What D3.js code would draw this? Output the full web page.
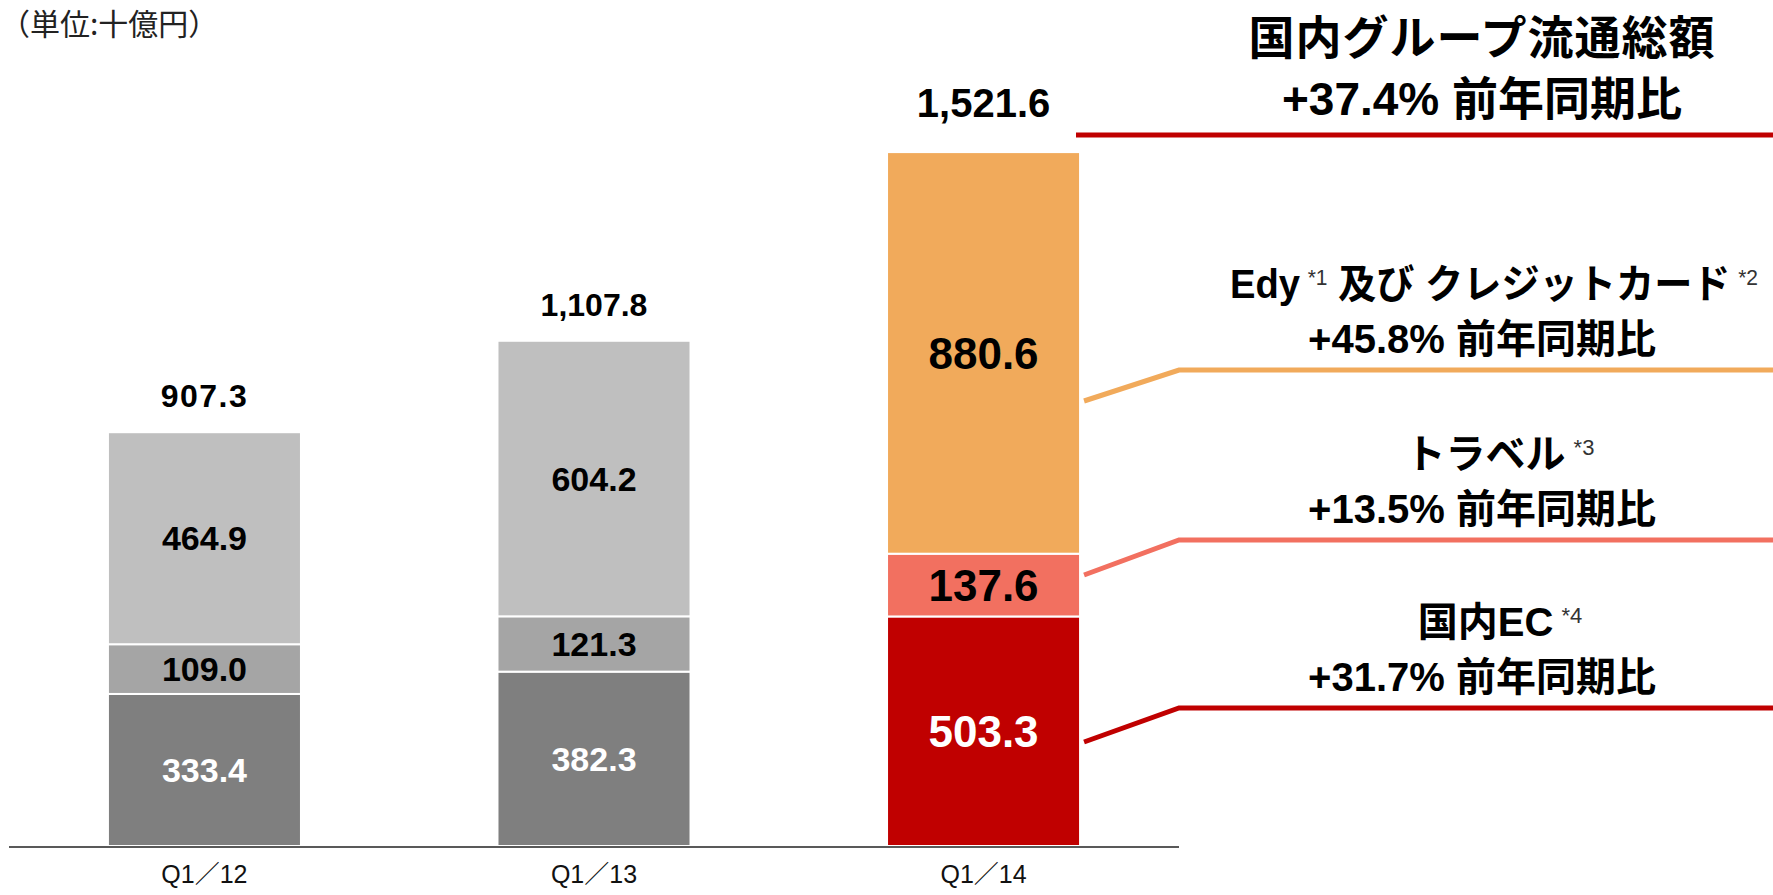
<!DOCTYPE html>
<html lang="ja">
<head>
    <meta charset="UTF-8">
    <title>国内グループ流通総額</title>
    <script src="https://d3js.org/d3.v7.min.js"></script>
    <style>
        body { margin: 0; background: #fff; }
        svg { display: block; }
    </style>
</head>
<body>
<script>
    // data (十億円)
    const categories = ["Q1／12", "Q1／13", "Q1／14"];
    const domesticEC = [333.4, 382.3, 503.3];
    const travel = [109.0, 121.3, 137.6];
    const edyCredit = [464.9, 604.2, 880.6];
    const totals = [907.3, 1107.8, 1521.6];

    const unitLabel = "（単位:十億円）";
    const titleText = "国内グループ流通総額";
    const totalYoy = "+37.4%";
    const yoyWord = "前年同期比";
    // order: 国内EC, トラベル, Edy及びクレジットカード
    const seriesYoy = ["+31.7%", "+13.5%", "+45.8%"];
    const seriesLabels = [
        [["国内EC", 0], ["*4", 1]],
        [["トラベル", 0], ["*3", 1]],
        [["Edy", 0], ["*1", 1], [" 及び クレジットカード", 0], ["*2", 1]]
    ];

    const keys = ["ec", "travel", "edy"];
    const grays = {ec: "#7f7f7f", travel: "#a5a5a5", edy: "#bfbfbf"};
    const colors = {ec: "#c00000", travel: "#f27060", edy: "#f1aa5b"};
    const lineColors = ["#c00000", "#f27060", "#f1aa5b"];
    const highlight = 2;

    const W = 1773, H = 895;
    const numFont = '"Liberation Sans", Arial, sans-serif';
    const annFont = '"Liberation Sans Narrow", "Liberation Sans", "Noto Sans CJK JP", sans-serif';

    const svg = d3.select("body").append("svg")
        .attr("width", W)
        .attr("height", H);

    const table = categories.map((c, i) => ({cat: c, ec: domesticEC[i], travel: travel[i], edy: edyCredit[i]}));
    const stacked = d3.stack().keys(keys)(table);

    const x = d3.scaleBand()
        .domain(categories)
        .range([9, 1179])
        .paddingInner(0.5045)
        .paddingOuter(0.254);
    const y = d3.scaleLinear()
        .domain([0, 1855])
        .range([846, 0]);

    // bars
    const layers = svg.append("g").selectAll("g").data(stacked).enter().append("g");
    layers.selectAll("rect")
        .data(d => d.map((v, i) => ({key: d.key, i: i, y0: v[0], y1: v[1]})))
        .enter()
        .append("rect")
        .attr("x", d => x(categories[d.i]))
        .attr("width", x.bandwidth())
        .attr("y", d => y(d.y1))
        .attr("height", d => y(d.y0) - y(d.y1))
        .style("fill", d => d.i === highlight ? colors[d.key] : grays[d.key])
        .style("stroke", "#fff")
        .style("stroke-width", 2);

    // segment labels
    layers.selectAll("text")
        .data(d => d.map((v, i) => ({key: d.key, i: i, y0: v[0], y1: v[1], val: v[1] - v[0]})))
        .enter()
        .append("text")
        .attr("x", d => x(categories[d.i]) + x.bandwidth() / 2)
        .attr("y", d => (y(d.y0) + y(d.y1)) / 2 + (d.i === highlight ? 16 : 12))
        .attr("text-anchor", "middle")
        .style("font-family", numFont)
        .style("font-weight", "bold")
        .style("font-size", d => d.i === highlight ? "44px" : "34px")
        .style("fill", d => d.key === "ec" ? "#fff" : "#000")
        .text(d => d3.format(".1f")(d.val));

    // totals
    svg.append("g").selectAll("text")
        .data(totals)
        .enter()
        .append("text")
        .attr("x", (d, i) => x(categories[i]) + x.bandwidth() / 2)
        .attr("y", (d, i) => y(d) - (i === highlight ? 35 : 25))
        .attr("text-anchor", "middle")
        .style("font-family", numFont)
        .style("font-weight", "bold")
        .style("font-size", (d, i) => i === highlight ? "40px" : "32px")
        .style("letter-spacing", (d, i) => i === 0 ? "1.5px" : "0px")
        .text(d => d3.format(",.1f")(d));

    // baseline + category labels
    svg.append("line")
        .attr("x1", 9).attr("x2", 1179)
        .attr("y1", 847).attr("y2", 847)
        .style("stroke", "#222")
        .style("stroke-width", 1.5);

    svg.append("g").selectAll("text")
        .data(categories)
        .enter()
        .append("text")
        .attr("x", d => x(d) + x.bandwidth() / 2)
        .attr("y", 883)
        .attr("text-anchor", "middle")
        .style("font-family", '"Liberation Sans", "Noto Sans CJK JP", sans-serif')
        .style("font-size", "25px")
        .style("fill", "#111")
        .text(d => d);

    // unit
    svg.append("text")
        .attr("x", 0)
        .attr("y", 35)
        .style("font-family", '"Noto Sans CJK JP", sans-serif')
        .style("font-size", "30px")
        .style("fill", "#222")
        .text(unitLabel);

    // right-hand annotations
    const ann = svg.append("g");
    const cx = 1482;
    const elbowX = 1179;
    const barRight = x(categories[highlight]) + x.bandwidth() + 4;

    ann.append("text")
        .attr("x", cx).attr("y", 54)
        .attr("text-anchor", "middle")
        .style("font-family", annFont)
        .style("font-weight", "bold")
        .style("font-size", "46px")
        .style("letter-spacing", "1px")
        .text(titleText);
    ann.append("text")
        .attr("x", cx).attr("y", 115)
        .attr("text-anchor", "middle")
        .style("font-family", annFont)
        .style("font-weight", "bold")
        .style("font-size", "46px")
        .text(totalYoy + " " + yoyWord);
    ann.append("line")
        .attr("x1", 1076).attr("x2", W)
        .attr("y1", 135).attr("y2", 135)
        .style("stroke", "#c00000")
        .style("stroke-width", 5);

    const leaderY = [708, 540, 370];
    const leaderStart = [742, 575, 401];
    const line = d3.line();

    seriesLabels.forEach((parts, k) => {
        const ly = leaderY[k];
        const long = parts.length > 2;
        const t = ann.append("text")
            .attr("x", long ? 1230 : cx + 18).attr("y", ly - 72)
            .attr("text-anchor", long ? "start" : "middle")
            .style("font-family", annFont)
            .style("font-weight", "bold")
            .style("font-size", "40px");
        if (long) t.attr("textLength", 528).attr("lengthAdjust", "spacingAndGlyphs");
        let raised = false;
        parts.forEach(p => {
            const ts = t.append("tspan").text(p[0]);
            if (p[1]) {
                ts.attr("dx", 8)
                    .attr("dy", -13)
                    .style("font-size", "22px")
                    .style("font-weight", "normal")
                    .style("fill", "#333");
                raised = true;
            } else if (raised) {
                ts.attr("dy", 13);
                raised = false;
            }
        });
        ann.append("text")
            .attr("x", cx).attr("y", ly - 17)
            .attr("text-anchor", "middle")
            .style("font-family", annFont)
            .style("font-weight", "bold")
            .style("font-size", "40px")
            .text(seriesYoy[k] + " " + yoyWord);
        ann.append("path")
            .attr("d", line([[barRight, leaderStart[k]], [elbowX, ly], [W, ly]]))
            .style("fill", "none")
            .style("stroke", lineColors[k])
            .style("stroke-width", 5);
    });
</script>
</body>
</html>
